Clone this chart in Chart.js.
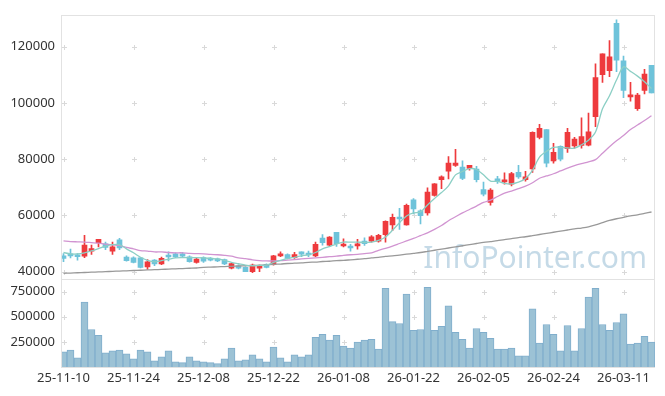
<!DOCTYPE html>
<html>
<head>
<meta charset="utf-8">
<script src="https://cdn.jsdelivr.net/npm/chart.js@4"></script>
<style>
  html, body { margin: 0; padding: 0; background: #fff; }
</style>
</head>
<body>
<canvas id="chart" width="665" height="396"></canvas>
<script>
// trading days (KRX), 25-11-10 .. 26-03-17
const dates = [
  '25-11-10','25-11-11','25-11-12','25-11-13','25-11-14','25-11-17','25-11-18','25-11-19','25-11-20','25-11-21',
  '25-11-24','25-11-25','25-11-26','25-11-27','25-11-28','25-12-01','25-12-02','25-12-03','25-12-04','25-12-05',
  '25-12-08','25-12-09','25-12-10','25-12-11','25-12-12','25-12-15','25-12-16','25-12-17','25-12-18','25-12-19',
  '25-12-22','25-12-23','25-12-24','25-12-26','25-12-29','25-12-30','26-01-02','26-01-05','26-01-06','26-01-07',
  '26-01-08','26-01-09','26-01-12','26-01-13','26-01-14','26-01-15','26-01-16','26-01-19','26-01-20','26-01-21',
  '26-01-22','26-01-23','26-01-26','26-01-27','26-01-28','26-01-29','26-01-30','26-02-02','26-02-03','26-02-04',
  '26-02-05','26-02-06','26-02-09','26-02-10','26-02-11','26-02-12','26-02-13','26-02-19','26-02-20','26-02-23',
  '26-02-24','26-02-25','26-02-26','26-02-27','26-03-03','26-03-04','26-03-05','26-03-06','26-03-09','26-03-10',
  '26-03-11','26-03-12','26-03-13','26-03-16','26-03-17'
];

const opens = [
  45600,46300,45900,45500,47300,50300,49900,47300,51300,45200,
  44900,44900,41700,44100,42700,45700,46300,46300,45300,43300,
  45000,44700,44500,44300,41200,42100,41500,40000,41200,42600,
  42600,45600,46100,45000,47000,46200,45600,51900,49400,54000,
  49100,48800,49100,50900,50800,50800,53100,56600,59300,56600,
  65500,61600,60900,67100,72700,75700,77800,77200,76700,76500,
  69200,64600,73000,71900,71100,75300,72700,76500,87700,90500,
  79400,84500,83700,84700,84900,85000,95100,110000,111400,128300,
  114900,102100,97900,104400,113300
];
const highs = [
  46400,48000,46400,52900,49400,51500,50500,50500,51800,45600,
  45300,45000,44300,44300,45200,47000,46700,46900,45600,44700,
  45300,45000,44800,44500,43000,42400,41700,42700,42300,42800,
  45800,47000,46300,46900,47000,47300,50500,53200,52500,54000,
  51700,49700,51500,52000,52800,53300,58100,60500,62500,64000,
  66000,62000,69800,71300,74100,80900,83500,79400,77800,77400,
  71800,69500,73900,75100,75300,77800,75700,89700,92400,90500,
  85600,84700,90900,87700,94700,96400,113900,117400,122100,129500,
  116600,107300,103400,111900,113300
];
const lows = [
  43500,44900,44100,45000,46100,48800,47800,46100,47800,43700,
  43100,41300,40800,42100,42500,43800,45000,45100,43400,43000,
  43300,43800,43500,42500,41000,41000,40000,39600,40000,41300,
  42300,45300,44500,44700,45300,45300,45300,49400,49000,49000,
  48800,47300,48000,49300,50500,50500,50500,54600,55000,56500,
  60500,57000,60100,66800,69500,73000,77400,72700,76100,71900,
  66900,63600,71400,71100,70500,73100,72200,75300,87200,77200,
  78600,79400,82400,83900,83900,84700,91500,107300,109300,111100,
  101800,100600,97300,103200,103500
];
const closes = [
  44700,45600,45300,49400,48200,51500,48600,48800,48400,43900,
  43300,41500,43500,42700,44700,45200,45200,45500,43500,44500,
  43700,44100,43800,42700,42900,41200,40000,42300,41800,41500,
  45600,46200,44700,46100,46200,45900,49700,50300,52300,49900,
  49600,48400,49900,49900,52400,52900,57900,59300,58700,63600,
  62300,59900,68300,71200,73700,78600,78600,73100,77800,72700,
  67500,69000,72200,72500,74900,73700,73700,89500,90900,78600,
  82400,80000,89500,87100,88000,89700,109000,117400,116400,115200,
  104400,102600,102800,110200,103500
];
const volumes = [
  150000,169000,91000,646000,373000,315000,140000,160000,169000,130000,
  82000,169000,150000,62000,101000,160000,52000,43000,101000,62000,
  52000,43000,33000,82000,189000,62000,72000,121000,82000,52000,
  198000,91000,52000,121000,101000,121000,296000,325000,267000,315000,
  208000,189000,247000,267000,276000,179000,782000,451000,432000,724000,
  364000,373000,792000,364000,403000,607000,344000,276000,189000,383000,
  344000,286000,179000,179000,189000,111000,111000,578000,237000,422000,
  325000,160000,412000,160000,383000,695000,782000,422000,364000,442000,
  529000,228000,237000,305000,247000
];
// moving averages as drawn (5 / 20 / 60 days)
const ma5 = [
  46800,46300,46300,46700,47400,48200,49100,49600,49600,48100,
  46700,45100,44000,43500,43900,44400,44900,45000,45000,45000,
  44900,44700,44500,44000,43300,42800,42300,42100,42200,42300,
  43300,44000,44600,45100,45600,46000,46800,48100,48900,49800,
  50500,50500,50500,50400,50500,51100,52300,54700,57400,59800,
  60900,61200,63700,66000,68100,70500,74400,75600,76600,76300,
  74400,72200,72100,71400,71200,71800,73100,76000,80700,82800,
  84200,84200,84000,83900,85100,86700,89600,97900,102500,108100,
  112800,111200,109500,107500,105100
];
const ma20 = [
  50900,50700,50600,50500,50300,50100,49800,49500,49300,48600,
  48100,47500,47300,47000,47000,46800,46700,46700,46500,46400,
  46300,46100,46000,45800,45500,44900,44600,44200,43900,43800,
  43800,43900,44100,44300,44500,44700,44900,45100,45300,45500,
  45800,46000,46100,46400,46700,47600,48300,49100,50000,50900,
  51800,52800,53800,55000,56400,58100,59500,60900,62100,63300,
  64600,65400,66700,67900,68600,69500,70400,71600,73200,74000,
  74800,75800,76800,77700,78400,79000,79800,82100,84400,86500,
  88400,90500,92100,93700,95400
];
const ma60 = [
  39400,39500,39600,39700,39800,39900,40000,40100,40200,40300,
  40400,40500,40600,40700,40800,40900,41000,41100,41200,41300,
  41500,41600,41700,41800,41900,42000,42100,42200,42300,42400,
  42600,42700,42900,43000,43100,43300,43400,43600,43700,43900,
  44000,44200,44400,44600,44900,45100,45400,45600,45900,46200,
  46500,46800,47200,47600,48000,48400,48800,49200,49600,50000,
  50400,50700,51000,51400,51700,52100,52400,52800,53200,53600,
  54000,54400,54800,55200,55500,55900,56600,57400,58200,58800,
  59300,59800,60200,60700,61200
];

const priceTicks = [40000, 60000, 80000, 100000, 120000];
const volumeTicks = [250000, 500000, 750000];
const dateTicks = [0, 10, 20, 30, 40, 50, 60, 70, 80];

const UP = '#ee3a3d';
const DOWN = '#6ec3da';
const idx = dates.map((d, i) => i);
const candleColors = idx.map(i => closes[i] >= opens[i] ? UP : DOWN);
const xy = arr => arr.map((v, i) => ({x: i, y: v}));

const tickFont = {family: "'Noto Sans', sans-serif", size: 13};
const noGrid = {display: false, drawTicks: false};

// box around each panel, small "+" grid marks, watermark
const decor = {
  id: 'decor',
  beforeDatasetsDraw(chart) {
    const {ctx, chartArea: a, scales} = chart;
    ctx.save();
    ctx.font = "30px 'Noto Sans', sans-serif";
    ctx.fillStyle = 'rgba(150,188,212,0.55)';
    ctx.textAlign = 'right';
    ctx.textBaseline = 'alphabetic';
    ctx.fillText('InfoPointer.com', a.right - 8, scales.y.bottom - 11);

    ctx.strokeStyle = '#e2e2e2';
    ctx.lineWidth = 1;
    [scales.y, scales.yv].forEach(s => {
      ctx.strokeRect(a.left - 0.5, Math.round(s.top) + 0.5, a.right - a.left, Math.round(s.bottom - s.top));
    });

    ctx.strokeStyle = '#d9d9d9';
    ctx.beginPath();
    [[scales.y, priceTicks], [scales.yv, volumeTicks]].forEach(([s, ticks]) => {
      ticks.forEach(v => {
        const py = Math.round(s.getPixelForValue(v)) + 0.5;
        dateTicks.forEach(t => {
          const px = Math.round(scales.x.getPixelForValue(t)) + 0.5;
          ctx.moveTo(px - 2.5, py); ctx.lineTo(px + 2.5, py);
          ctx.moveTo(px, py - 2.5); ctx.lineTo(px, py + 2.5);
        });
      });
    });
    ctx.stroke();
    ctx.restore();
  }
};

new Chart(document.getElementById('chart'), {
  data: {
    datasets: [
      {type: 'line', label: 'MA5', data: xy(ma5), yAxisID: 'y', borderColor: '#8ccfc5', borderWidth: 1.3, pointRadius: 0, tension: 0.3, order: 0},
      {type: 'line', label: 'MA20', data: xy(ma20), yAxisID: 'y', borderColor: '#d194d1', borderWidth: 1.3, pointRadius: 0, tension: 0.3, order: 0},
      {type: 'line', label: 'MA60', data: xy(ma60), yAxisID: 'y', borderColor: '#999999', borderWidth: 1.3, pointRadius: 0, tension: 0.3, order: 0},
      {type: 'bar', label: 'body', data: idx.map(i => ({x: i, y: [opens[i], closes[i]]})), yAxisID: 'y',
        backgroundColor: candleColors, barThickness: 5, minBarLength: 2, grouped: false, order: 1},
      {type: 'bar', label: 'wick', data: idx.map(i => ({x: i, y: [lows[i], highs[i]]})), yAxisID: 'y',
        backgroundColor: candleColors, barThickness: 1, grouped: false, order: 2},
      {type: 'bar', label: 'volume', data: xy(volumes), yAxisID: 'yv',
        backgroundColor: '#9cc2d5', borderColor: '#80aecc', borderWidth: 1, barThickness: 7, grouped: false, order: 3}
    ]
  },
  options: {
    responsive: false,
    animation: false,
    events: [],
    layout: {padding: {top: 10, right: 10, left: 0, bottom: 0}},
    plugins: {legend: {display: false}, tooltip: {enabled: false}},
    scales: {
      x: {
        type: 'linear', offset: false, min: -1.5 / 7, max: 84.5,
        grid: noGrid, border: {display: false},
        afterBuildTicks: s => { s.ticks = dateTicks.map(v => ({value: v})); },
        afterFit: s => { s.height = 29; },
        ticks: {font: tickFont, color: '#333', maxRotation: 0, autoSkip: false, padding: 3,
          callback: v => dates[v]}
      },
      yv: {
        type: 'linear', position: 'left', stack: 'panels', stackWeight: 1,
        min: 0, max: 875000,
        grid: noGrid, border: {display: false},
        afterBuildTicks: s => { s.ticks = volumeTicks.map(v => ({value: v})); },
        afterFit: s => { s.width = 62; },
        ticks: {font: tickFont, color: '#333', padding: 7, callback: v => String(v)}
      },
      y: {
        type: 'linear', position: 'left', stack: 'panels', stackWeight: 3,
        min: 37400, max: 131300,
        grid: noGrid, border: {display: false},
        afterBuildTicks: s => { s.ticks = priceTicks.map(v => ({value: v})); },
        afterFit: s => { s.width = 62; },
        ticks: {font: tickFont, color: '#333', padding: 7, callback: v => String(v)}
      }
    }
  },
  plugins: [decor]
});
</script>
</body>
</html>
